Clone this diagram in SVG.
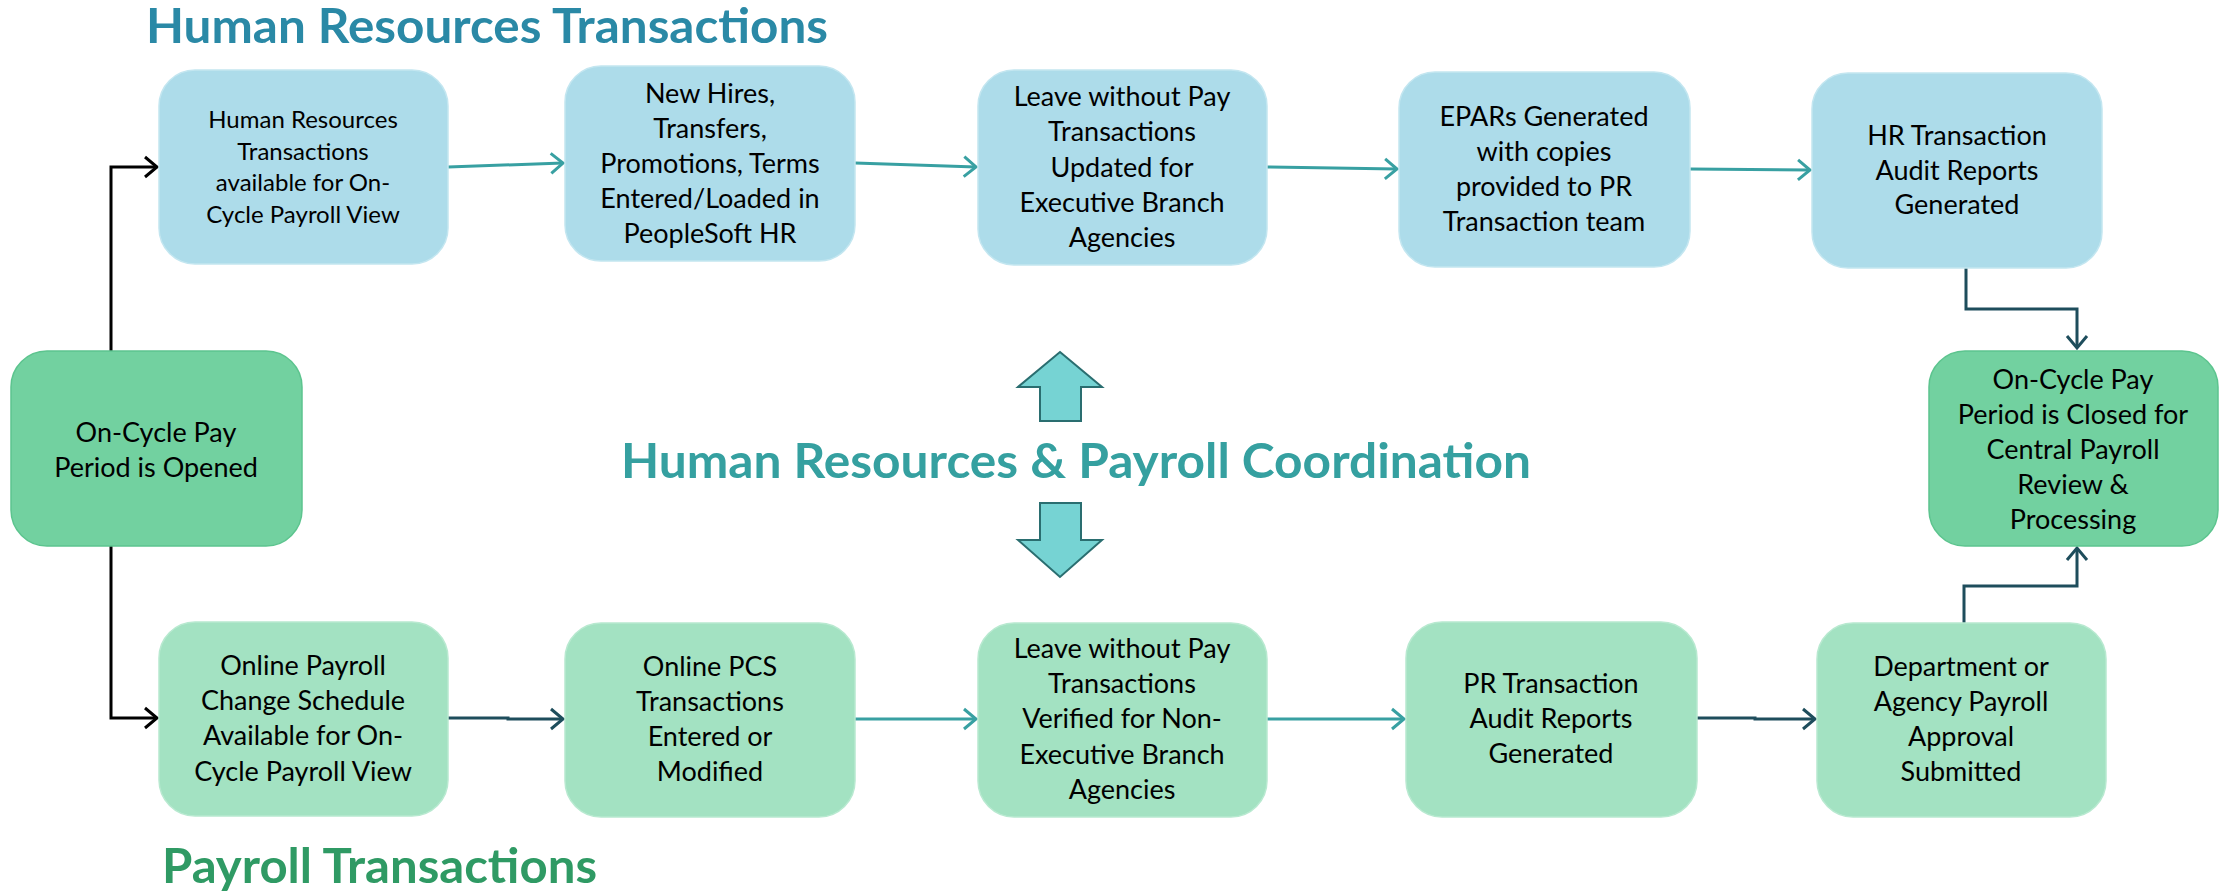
<svg xmlns="http://www.w3.org/2000/svg" width="2227" height="893" viewBox="0 0 2227 893">
  <defs>
    <style>
      .hr { fill: #addcea; stroke: #c3e6f0; stroke-width: 1.5; }
      .pr { fill: #a3e2c2; stroke: #b8e9d0; stroke-width: 1.5; }
      .end { fill: #72d1a0; stroke: #5cc48e; stroke-width: 1.5; }
      .t { font-family: Lato, "Liberation Sans", sans-serif; font-size: 27px; fill: #000; text-anchor: middle; }
      .ts { font-family: Lato, "Liberation Sans", sans-serif; font-size: 24px; fill: #000; text-anchor: middle; }
      .title { font-family: Lato, "Liberation Sans", sans-serif; font-weight: bold; font-size: 48px; }
      .teal { fill: none; stroke: #38a0a2; stroke-width: 3; }
      .dark { fill: none; stroke: #1e4d5c; stroke-width: 3; }
      .black { fill: none; stroke: #000; stroke-width: 3; }
      .big { fill: #76d3d3; stroke: #2a6e70; stroke-width: 2; }
    </style>
    <marker id="mTeal" markerUnits="userSpaceOnUse" viewBox="-16 -13 20 26" refX="0" refY="0" markerWidth="20" markerHeight="26" orient="auto">
      <path d="M -12 -10 L 0 0 L -12 10" fill="none" stroke="#38a0a2" stroke-width="3"/>
    </marker>
    <marker id="mDark" markerUnits="userSpaceOnUse" viewBox="-16 -13 20 26" refX="0" refY="0" markerWidth="20" markerHeight="26" orient="auto">
      <path d="M -12 -10 L 0 0 L -12 10" fill="none" stroke="#1e4d5c" stroke-width="3"/>
    </marker>
    <marker id="mBlack" markerUnits="userSpaceOnUse" viewBox="-16 -13 20 26" refX="0" refY="0" markerWidth="20" markerHeight="26" orient="auto">
      <path d="M -12 -10 L 0 0 L -12 10" fill="none" stroke="#000" stroke-width="3"/>
    </marker>
  </defs>

  <rect width="2227" height="893" fill="#fff"/>

  <!-- section headings -->
  <text class="title" x="146" y="43" fill="#2a89a6" textLength="682" lengthAdjust="spacingAndGlyphs">Human Resources Transactions</text>
  <text class="title" x="162" y="883" fill="#2f9a64" textLength="435" lengthAdjust="spacingAndGlyphs">Payroll Transactions</text>
  <text class="title" x="621" y="478" fill="#35a0a0" textLength="910" lengthAdjust="spacingAndGlyphs">Human Resources &amp; Payroll Coordination</text>

  <!-- connectors -->
  <g id="connectors">
    <path class="black" d="M 111 351 V 167 H 157" marker-end="url(#mBlack)"/>
    <path class="black" d="M 111 546 V 718 H 157" marker-end="url(#mBlack)"/>
    <path class="teal" d="M 448 167 L 563 163" marker-end="url(#mTeal)"/>
    <path class="teal" d="M 855 163 L 976 167" marker-end="url(#mTeal)"/>
    <path class="teal" d="M 1267 167 L 1397 169" marker-end="url(#mTeal)"/>
    <path class="teal" d="M 1690 169 L 1810 170" marker-end="url(#mTeal)"/>
    <path class="dark" d="M 1966 268 V 309 H 2077 V 348" marker-end="url(#mDark)"/>
    <path class="dark" d="M 448 718 H 508 V 719 H 563" marker-end="url(#mDark)"/>
    <path class="teal" d="M 855 719 H 976" marker-end="url(#mTeal)"/>
    <path class="teal" d="M 1267 719 H 1404" marker-end="url(#mTeal)"/>
    <path class="dark" d="M 1697 718 H 1755 V 719 H 1815" marker-end="url(#mDark)"/>
    <path class="dark" d="M 1964 623 V 586 H 2077 V 548" marker-end="url(#mDark)"/>
  </g>

  <!-- coordination arrows -->
  <g id="coordination">
    <path class="big" d="M 1060 352 L 1102 387 L 1081 387 L 1081 421 L 1040 421 L 1040 387 L 1018 387 Z"/>
    <path class="big" d="M 1040 503 L 1081 503 L 1081 540 L 1102 540 L 1060 577 L 1018 540 L 1040 540 Z"/>
  </g>

  <g id="open">
    <rect class="end" x="11" y="351" width="291" height="195" rx="36"/>
    <text class="t" x="156" y="442">On-Cycle Pay</text>
    <text class="t" x="156" y="477">Period is Opened</text>
  </g>

  <g id="hr1">
    <rect class="hr" x="159" y="70" width="289" height="194" rx="36"/>
    <text class="ts" x="303" y="128">Human Resources</text>
    <text class="ts" x="303" y="160">Transactions</text>
    <text class="ts" x="303" y="191">available for On-</text>
    <text class="ts" x="303" y="223">Cycle Payroll View</text>
  </g>

  <g id="hr2">
    <rect class="hr" x="565" y="66" width="290" height="195" rx="36"/>
    <text class="t" x="710" y="103">New Hires,</text>
    <text class="t" x="710" y="138">Transfers,</text>
    <text class="t" x="710" y="173">Promotions, Terms</text>
    <text class="t" x="710" y="208">Entered/Loaded in</text>
    <text class="t" x="710" y="243">PeopleSoft HR</text>
  </g>

  <g id="hr3">
    <rect class="hr" x="978" y="70" width="289" height="195" rx="36"/>
    <text class="t" x="1122" y="106">Leave without Pay</text>
    <text class="t" x="1122" y="141">Transactions</text>
    <text class="t" x="1122" y="177">Updated for</text>
    <text class="t" x="1122" y="212">Executive Branch</text>
    <text class="t" x="1122" y="247">Agencies</text>
  </g>

  <g id="hr4">
    <rect class="hr" x="1399" y="72" width="291" height="195" rx="36"/>
    <text class="t" x="1544" y="126">EPARs Generated</text>
    <text class="t" x="1544" y="161">with copies</text>
    <text class="t" x="1544" y="196">provided to PR</text>
    <text class="t" x="1544" y="231">Transaction team</text>
  </g>

  <g id="hr5">
    <rect class="hr" x="1812" y="73" width="290" height="195" rx="36"/>
    <text class="t" x="1957" y="145">HR Transaction</text>
    <text class="t" x="1957" y="180">Audit Reports</text>
    <text class="t" x="1957" y="214">Generated</text>
  </g>

  <g id="closed">
    <rect class="end" x="1929" y="351" width="289" height="195" rx="36"/>
    <text class="t" x="2073" y="389">On-Cycle Pay</text>
    <text class="t" x="2073" y="424">Period is Closed for</text>
    <text class="t" x="2073" y="459">Central Payroll</text>
    <text class="t" x="2073" y="494">Review &amp;</text>
    <text class="t" x="2073" y="529">Processing</text>
  </g>

  <g id="pr1">
    <rect class="pr" x="159" y="622" width="289" height="194" rx="36"/>
    <text class="t" x="303" y="675">Online Payroll</text>
    <text class="t" x="303" y="710">Change Schedule</text>
    <text class="t" x="303" y="745">Available for On-</text>
    <text class="t" x="303" y="781">Cycle Payroll View</text>
  </g>

  <g id="pr2">
    <rect class="pr" x="565" y="623" width="290" height="194" rx="36"/>
    <text class="t" x="710" y="676">Online PCS</text>
    <text class="t" x="710" y="711">Transactions</text>
    <text class="t" x="710" y="746">Entered or</text>
    <text class="t" x="710" y="781">Modified</text>
  </g>

  <g id="pr3">
    <rect class="pr" x="978" y="623" width="289" height="194" rx="36"/>
    <text class="t" x="1122" y="658">Leave without Pay</text>
    <text class="t" x="1122" y="693">Transactions</text>
    <text class="t" x="1122" y="728">Verified for Non-</text>
    <text class="t" x="1122" y="764">Executive Branch</text>
    <text class="t" x="1122" y="799">Agencies</text>
  </g>

  <g id="pr4">
    <rect class="pr" x="1406" y="622" width="291" height="195" rx="36"/>
    <text class="t" x="1551" y="693">PR Transaction</text>
    <text class="t" x="1551" y="728">Audit Reports</text>
    <text class="t" x="1551" y="763">Generated</text>
  </g>

  <g id="pr5">
    <rect class="pr" x="1817" y="623" width="289" height="194" rx="36"/>
    <text class="t" x="1961" y="676">Department or</text>
    <text class="t" x="1961" y="711">Agency Payroll</text>
    <text class="t" x="1961" y="746">Approval</text>
    <text class="t" x="1961" y="781">Submitted</text>
  </g>
</svg>
